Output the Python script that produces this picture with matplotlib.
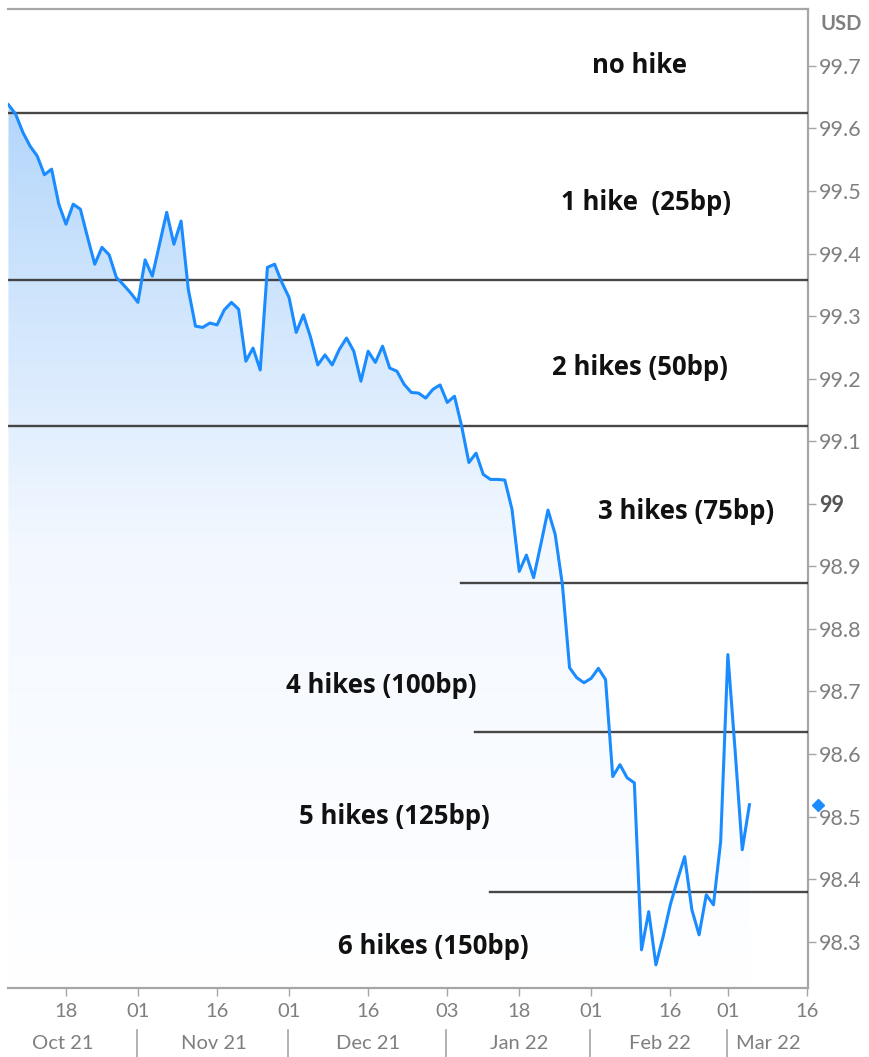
import numpy as np
import pandas as pd
import matplotlib
matplotlib.use('Agg')
from matplotlib import pyplot as plt
from matplotlib.colors import LinearSegmentedColormap
from matplotlib.transforms import blended_transform_factory

# trading calendar (index 0 = 1 Oct 2021), futures price starts 6 Oct
holidays = ['2021-11-25', '2021-12-24', '2022-01-17', '2022-02-21']
start_date = '2021-10-06'
prices = [99.638, 99.623, 99.594, 99.572, 99.556, 99.526, 99.535, 99.479, 99.447, 99.479,
          99.471, 99.426, 99.383, 99.410, 99.398, 99.362, 99.350, 99.337, 99.322, 99.390,
          99.364, 99.415, 99.466, 99.415, 99.452, 99.343, 99.284, 99.282, 99.289, 99.286,
          99.310, 99.322, 99.311, 99.228, 99.249, 99.214, 99.378, 99.383, 99.354, 99.330,
          99.274, 99.302, 99.266, 99.222, 99.238, 99.222, 99.247, 99.265, 99.244, 99.196,
          99.244, 99.226, 99.252, 99.217, 99.212, 99.191, 99.178, 99.177, 99.169, 99.183,
          99.190, 99.162, 99.172, 99.124, 99.066, 99.081, 99.047, 99.039, 99.039, 99.038,
          98.991, 98.892, 98.918, 98.882, 98.935, 98.990, 98.951, 98.871, 98.738, 98.722,
          98.714, 98.721, 98.737, 98.719, 98.564, 98.583, 98.562, 98.554, 98.287, 98.348,
          98.263, 98.308, 98.359, 98.399, 98.436, 98.351, 98.311, 98.375, 98.359, 98.460,
          98.759, 98.607, 98.447, 98.519]

tick_dates = ['2021-10-18', '2021-11-01', '2021-11-16', '2021-12-01', '2021-12-16',
              '2022-01-03', '2022-01-18', '2022-02-01', '2022-02-16', '2022-03-01',
              '2022-03-16']
month_labels = ['Oct 21', 'Nov 21', 'Dec 21', 'Jan 22', 'Feb 22', 'Mar 22']

# implied hike levels
levels = [99.625, 99.358, 99.125, 98.873, 98.635, 98.38]
level_from = [None, None, None, '2022-01-05', '2022-01-07', '2022-01-11']
hike_labels = ['no hike', '1 hike  (25bp)', '2 hikes (50bp)', '3 hikes (75bp)',
               '4 hikes (100bp)', '5 hikes (125bp)', '6 hikes (150bp)']
hike_label_y = [99.70, 99.482, 99.218, 98.988, 98.710, 98.50, 98.292]
hike_label_x = [0.79, 0.7975, 0.79, 0.8475, 0.4663, 0.4825, 0.5313]

yticks = [98.3, 98.4, 98.5, 98.6, 98.7, 98.8, 98.9, 99.0, 99.1, 99.2, 99.3, 99.4, 99.5, 99.6, 99.7]

cbd = pd.offsets.CustomBusinessDay(holidays=holidays)
days = pd.date_range('2021-10-01', '2022-03-16', freq=cbd)
x0 = days.get_loc(pd.Timestamp(start_date))
x = np.arange(x0, x0 + len(prices))
y = np.array(prices)

line_col = '#1a8cff'
axis_col = '#a6a6a6'
text_col = '#7f7f7f'

fig = plt.figure(figsize=(8.69, 10.57), dpi=100)
ax = fig.add_axes([8 / 869, 1 - 988 / 1057, 800 / 869, 979 / 1057])

xmin, xmax = x0 - 0.06, len(days) - 1 + 0.14
ymin, ymax = 98.226, 99.791
ax.set_xlim(xmin, xmax)
ax.set_ylim(ymin, ymax)

# gradient area under the line
fill = ax.fill_between(x, y, ymin, facecolor='none', edgecolor='none')
cmap = LinearSegmentedColormap.from_list('fade', ['#ffffff', '#f3f8ff', '#b3d6fb'])
grad = np.linspace(1, 0, 256).reshape(-1, 1)
im = ax.imshow(grad, extent=[x[0], x[-1], ymin, y.max()], aspect='auto',
               cmap=cmap, origin='upper', zorder=1)
im.set_clip_path(fill.get_paths()[0], transform=ax.transData)

ax.plot(x, y, color=line_col, lw=2.2, zorder=4)

# hike levels
for lv, start in zip(levels, level_from):
    xs = xmin if start is None else days.get_loc(pd.Timestamp(start)) - 0.1
    ax.plot([xs, xmax], [lv, lv], color='#333333', lw=1.7, zorder=3, alpha=0.9)

for txt, tx, ty in zip(hike_labels, hike_label_x, hike_label_y):
    ax.text(tx, ty, txt, transform=blended_transform_factory(ax.transAxes, ax.transData),
            ha='center', va='center', fontsize=18.5, fontweight='bold',
            family=['Open Sans', 'DejaVu Sans'], color='#111111', zorder=5)

# last value marker on the axis
ax.plot([1.0125], [y[-1]], marker='D', markersize=6, color=line_col, clip_on=False,
        transform=blended_transform_factory(ax.transAxes, ax.transData), zorder=6)

# spines
for side in ['top', 'right', 'bottom']:
    ax.spines[side].set_color(axis_col)
    ax.spines[side].set_linewidth(1.6)
ax.spines['left'].set_visible(False)

# y axis on the right
ax.yaxis.tick_right()
ax.set_yticks(yticks)
ax.set_yticklabels(['%g' % v for v in yticks])
ax.tick_params(axis='y', which='both', left=False, right=True, length=6, width=1,
               color=axis_col, labelcolor=text_col, labelsize=15.5, pad=2)
for lab in ax.get_yticklabels():
    lab.set_family(['Lato', 'DejaVu Sans'])
    if lab.get_text() == '99':
        lab.set_fontweight('bold')
        lab.set_color('#555555')
fig.text(841 / 869, 1 - 24 / 1057, 'USD', ha='center', va='center', fontsize=14.5,
         fontweight='bold', color=text_col, family=['Lato', 'DejaVu Sans'])

# x axis: day ticks and month row
tick_pos = days.get_indexer(pd.to_datetime(tick_dates))
ax.set_xticks(tick_pos)
ax.set_xticklabels([pd.Timestamp(d).strftime('%d') for d in tick_dates])
ax.tick_params(axis='x', length=6, width=1, color=axis_col, labelcolor=text_col,
               labelsize=14.5, pad=5)
for lab in ax.get_xticklabels():
    lab.set_family(['Lato', 'DejaVu Sans'])

month_start = [0] + [i for i in range(1, len(days)) if days[i].month != days[i - 1].month]
bounds = month_start + [xmax]
trans = blended_transform_factory(ax.transData, ax.transAxes)
for i, lab in enumerate(month_labels):
    cx = (bounds[i] + bounds[i + 1]) / 2
    ax.text(cx, -0.0565, lab, transform=trans, ha='center', va='center', fontsize=14.5,
            color=text_col, family=['Lato', 'DejaVu Sans'])
for b in month_start[1:]:
    ax.plot([b - 0.15, b - 0.15], [-0.043, -0.07], transform=trans, color=axis_col,
            lw=1.2, clip_on=False)

fig.savefig('out.png', dpi=100)
